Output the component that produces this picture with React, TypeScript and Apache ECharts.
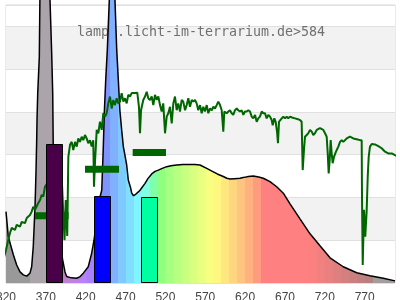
import React, { useEffect, useRef } from "react";
import * as echarts from "echarts";

// LED lamp spectrum (wavelength nm, relative intensity)
const ledWavelengths = [
  320.0, 322.9, 325.0, 329.2, 333.4, 337.6, 341.7, 346.0, 350.1, 352.2,
  354.2, 356.4, 357.6, 358.5, 359.0, 359.8, 361.8, 363.0, 366.0, 369.0,
  372.0, 374.5, 375.2, 377.3, 378.6, 379.3, 382.0, 385.0, 388.0, 391.1,
  394.0, 396.1, 402.0, 408.7, 413.0, 417.0, 423.2, 427.5, 430.4, 434.0,
  437.9, 440.1, 442.1, 443.3, 445.1, 447.1, 449.6, 451.5, 454.0, 456.7,
  458.9, 460.9, 462.8, 465.1, 467.2, 468.0, 471.4, 473.4, 476.4, 477.7,
  480.0, 483.0, 486.0, 488.1, 494.4, 498.0, 502.8, 507.0, 511.1, 516.0,
  521.6, 527.0, 534.1, 542.0, 550.8, 557.0, 563.3, 571.8, 580.1, 585.0,
  592.6, 597.0, 601.0, 607.0, 613.5, 619.0, 624.0, 630.2, 637.0, 642.8,
  651.2, 659.6, 667.9, 676.3, 688.8, 701.4, 713.9, 726.5, 743.1, 760.0,
  776.6, 793.3, 808.0,
];
const ledValues = [
  1.67, 1.08, 0.94, 0.66, 0.42, 0.26, 0.19, 0.16, 0.23, 0.38,
  0.85, 1.78, 2.57, 3.34, 3.89, 4.44, 5.29, 7.5, 11.0, 13.0,
  11.0, 7.5, 6.62, 5.38, 4.44, 3.11, 2.0, 1.3, 0.9, 0.54,
  0.26, 0.15, 0.12, 0.11, 0.15, 0.23, 0.38, 0.70, 1.00, 1.5,
  2.01, 2.17, 3.19, 3.97, 4.75, 5.45, 6.62, 8.5, 9.0, 6.62,
  5.45, 4.75, 4.05, 3.58, 3.19, 3.11, 2.76, 2.41, 2.22, 2.10,
  2.04, 2.08, 2.13, 2.17, 2.33, 2.44, 2.55, 2.61, 2.64, 2.68,
  2.72, 2.74, 2.76, 2.77, 2.77, 2.77, 2.76, 2.68, 2.60, 2.55,
  2.49, 2.45, 2.43, 2.44, 2.45, 2.47, 2.49, 2.50, 2.48, 2.45,
  2.37, 2.25, 2.10, 1.85, 1.50, 1.15, 0.87, 0.59, 0.38, 0.24,
  0.17, 0.11, 0.05,
];

// Sunlight reference spectrum
const sunWavelengths = [
  312.5, 316.6, 320.0, 322.9, 325.0, 327.2, 331.3, 333.4, 337.6, 339.7,
  343.8, 346.0, 350.1, 352.2, 354.2, 356.4, 360.5, 362.7, 364.8, 366.8,
  368.9, 372.7, 377.7, 382.7, 387.7, 390.3, 393.4, 395.0, 396.8, 398.2,
  400.3, 402.4, 404.4, 406.6, 408.7, 410.7, 412.8, 415.0, 417.0, 419.1,
  421.2, 423.2, 425.4, 427.5, 429.5, 430.4, 431.6, 433.8, 435.8, 437.9,
  440.1, 442.1, 444.2, 446.3, 448.3, 450.5, 452.6, 454.6, 456.7, 458.9,
  460.9, 463.0, 465.1, 467.2, 469.3, 471.4, 473.4, 475.6, 477.7, 481.8,
  484.7, 486.8, 488.1, 489.4, 492.2, 494.4, 496.5, 498.5, 500.6, 502.8,
  504.8, 506.9, 509.1, 511.1, 513.2, 515.3, 517.3, 519.5, 521.6, 523.6,
  525.7, 527.9, 529.9, 532.0, 534.1, 536.1, 538.3, 540.4, 542.4, 544.6,
  546.7, 548.7, 550.8, 553.0, 555.0, 557.1, 559.2, 561.2, 563.4, 565.5,
  567.5, 569.6, 571.8, 573.8, 575.9, 578.1, 580.1, 582.2, 584.3, 586.3,
  588.5, 590.6, 592.6, 593.9, 596.9, 598.9, 601.0, 603.1, 605.1, 607.3,
  609.4, 611.4, 613.5, 615.7, 617.7, 619.8, 622.0, 624.0, 626.1, 628.2,
  630.2, 632.4, 634.5, 636.5, 638.6, 640.8, 642.8, 644.9, 647.0, 649.1,
  651.2, 653.3, 654.6, 656.6, 658.3, 660.0, 661.2, 662.5, 664.1, 665.9,
  667.9, 670.0, 672.1, 674.1, 676.3, 678.8, 682.6, 686.3, 688.8, 690.9,
  692.2, 693.8, 695.1, 697.2, 699.2, 701.4, 703.5, 705.5, 707.6, 709.8,
  713.9, 718.0, 720.2, 722.3, 723.6, 724.8, 726.1, 727.3, 728.6, 729.8,
  731.5, 733.1, 734.9, 736.9, 739.0, 741.1, 743.1, 747.4, 751.5, 755.7,
  759.9, 764.1, 766.2, 766.6, 767.5, 769.1, 770.7, 772.5, 773.8, 775.0,
  776.6, 778.8, 782.9, 787.1, 791.3, 795.5, 799.6, 803.9, 808.0, 812.2,
  814.3,
];
const sunValues = [
  0.34, 0.54, 0.77, 1.01, 1.17, 1.29, 1.24, 1.36, 1.32, 1.43,
  1.40, 1.52, 1.59, 1.67, 1.78, 1.71, 1.87, 1.94, 2.06, 2.02,
  2.25, 2.36, 2.50, 2.31, 2.45, 2.29, 1.00, 1.94, 1.10, 2.95,
  3.23, 3.30, 3.11, 3.30, 3.19, 3.38, 3.30, 3.42, 3.34, 3.46,
  3.38, 3.27, 3.34, 3.19, 3.34, 2.25, 2.80, 3.58, 3.50, 3.77,
  3.58, 3.97, 3.89, 3.97, 4.20, 4.36, 4.08, 4.28, 4.16, 4.32,
  4.20, 4.24, 4.44, 4.24, 4.32, 4.20, 4.40, 4.36, 4.44, 4.44,
  4.45, 4.12, 3.50, 4.04, 4.28, 4.36, 4.47, 4.32, 4.28, 4.36,
  4.16, 4.40, 4.28, 4.36, 4.16, 4.01, 4.20, 3.50, 3.89, 3.97,
  4.12, 3.73, 4.20, 4.36, 4.04, 4.20, 4.01, 4.28, 4.24, 4.04,
  4.16, 4.32, 4.12, 4.28, 4.24, 4.28, 4.20, 4.04, 4.16, 3.97,
  4.12, 4.01, 4.16, 3.97, 4.08, 4.04, 4.12, 4.08, 4.16, 4.24,
  4.16, 4.04, 3.54, 4.01, 3.97, 4.01, 4.04, 3.97, 3.93, 4.04,
  4.08, 4.04, 4.01, 4.04, 3.93, 4.01, 4.01, 4.04, 4.01, 3.89,
  3.85, 3.93, 3.77, 3.85, 3.89, 4.01, 3.97, 3.97, 3.85, 3.93,
  3.89, 3.81, 3.69, 3.85, 3.77, 3.54, 3.27, 3.77, 3.81, 3.85,
  3.89, 3.85, 3.89, 3.85, 3.89, 3.87, 3.85, 3.83, 3.81, 3.77,
  2.64, 3.11, 3.42, 3.46, 3.50, 3.58, 3.54, 3.46, 3.50, 3.58,
  3.62, 3.58, 3.50, 3.42, 3.03, 2.56, 2.88, 3.34, 3.03, 2.80,
  2.95, 3.03, 3.11, 3.19, 3.30, 3.34, 3.30, 3.38, 3.42, 3.38,
  3.36, 3.34, 3.34, 2.02, 0.42, 1.71, 1.08, 1.71, 2.49, 2.95,
  3.19, 3.25, 3.24, 3.20, 3.15, 3.07, 3.03, 3.03, 2.99, 2.95,
  2.92,
];

// Colored bars (start nm, end nm, value)
const barStarts = [370.4, 430.8, 489.7];
const barEnds = [391.0, 451.3, 510.3];
const barValues = [3.24, 2.03, 2.0];

// Dark green horizontal markers
const bandStarts = [356.4, 419.1, 478.9];
const bandEnds = [398.5, 461.8, 520.7];
const bandValues = [1.57, 2.66, 3.05];

const titleText = "lampe.licht-im-terrarium.de>584";

const X_MIN = 320;
const X_MAX = 808;
const GRID_LEFT = 6;
const GRID_RIGHT = 5;
const BAR_COLORS = ["#4a0048", "#0000ff", "#00ffa0"];

function wavelengthPastel(w: number): string {
  if (w < 350) return "#999999";
  if (w < 380) return "#aba4ab";
  if (w > 780) return "#a39d9d";
  let r = 0, g = 0, b = 0;
  if (w < 440) { r = -(w - 440) / 60; b = 1; }
  else if (w < 490) { g = (w - 440) / 50; b = 1; }
  else if (w < 510) { g = 1; b = -(w - 510) / 20; }
  else if (w < 580) { r = (w - 510) / 70; g = 1; }
  else if (w < 645) { r = 1; g = -(w - 645) / 65; }
  else { r = 1; }
  let f = 1;
  if (w < 420) f = 0.3 + (0.7 * (w - 380)) / 40;
  else if (w > 700) f = 0.3 + (0.7 * (780 - w)) / 80;
  const c = (v: number) => {
    const s = v > 0 ? Math.pow(v * f, 0.8) * 255 : 0;
    return Math.round((255 + s) / 2);
  };
  return `rgb(${c(r)},${c(g)},${c(b)})`;
}

export default function App() {
  const ref = useRef<HTMLDivElement>(null);
  useEffect(() => {
    if (!ref.current) return;
    const chart = echarts.init(ref.current, null, { renderer: "svg" });
    const plotW = 400 - GRID_LEFT - GRID_RIGHT;

    const stops: { offset: number; color: string }[] = [];
    for (let w = X_MIN; w < X_MAX; w += 10) {
      const w2 = Math.min(w + 10, X_MAX);
      const col = wavelengthPastel(w + 5);
      stops.push({ offset: (w - X_MIN) / (X_MAX - X_MIN), color: col });
      stops.push({ offset: (w2 - X_MIN) / (X_MAX - X_MIN), color: col });
    }
    const fill = new echarts.graphic.LinearGradient(
      GRID_LEFT, 0, GRID_LEFT + plotW, 0, stops, true
    );

    const ledData = ledWavelengths.map((w, i) => [w, ledValues[i]]);
    const sunData = sunWavelengths.map((w, i) => [w, sunValues[i]]);
    const barData = barStarts.map((s, i) => [s, barEnds[i], barValues[i]]);
    const bandData = bandStarts.map((s, i) => [s, bandEnds[i], bandValues[i]]);

    chart.setOption({
      animation: false,
      grid: {
        left: GRID_LEFT,
        right: GRID_RIGHT,
        top: 5,
        bottom: 17,
        show: true,
        containLabel: false,
        outerBoundsMode: "none",
        borderColor: "#d6d6d6",
        borderWidth: 1,
        backgroundColor: "transparent",
      },
      xAxis: {
        type: "value",
        min: X_MIN,
        max: X_MAX,
        interval: 50,
        axisLine: { show: false },
        axisTick: { show: false },
        splitLine: { show: false },
        axisLabel: {
          showMaxLabel: false,
          hideOverlap: false,
          color: "#444",
          fontSize: 12,
          fontFamily: "Liberation Sans, Arial, sans-serif",
          margin: 8,
        },
      },
      yAxis: {
        type: "value",
        min: 0,
        max: 6.5,
        interval: 1,
        axisLabel: { show: false },
        axisLine: { show: false },
        axisTick: { show: false },
        splitLine: { show: true, lineStyle: { color: "#e0e0e0", width: 1 } },
        splitArea: { show: true, areaStyle: { color: ["#ffffff", "#f2f2f2"] } },
      },
      graphic: [
        {
          type: "text",
          z: 1,
          x: 201,
          y: 31.5,
          style: {
            text: titleText,
            fontSize: 13.3,
            fontFamily: "DejaVu Sans Mono",
            fill: "#707070",
            align: "center",
            verticalAlign: "middle",
          },
        },
      ],
      series: [
        {
          type: "line",
          z: 2,
          data: ledData,
          clip: false,
          showSymbol: false,
          symbol: "none",
          lineStyle: { color: "#000", width: 1.5 },
          areaStyle: { color: fill, opacity: 1 },
        },
        {
          type: "line",
          z: 3,
          data: sunData,
          clip: false,
          showSymbol: false,
          symbol: "none",
          lineStyle: { color: "#006600", width: 2 },
        },
        {
          type: "custom",
          z: 4,
          data: bandData,
          encode: { x: [0, 1], y: 2 },
          renderItem: (params: any, api: any) => {
            const p0 = api.coord([api.value(0), api.value(2)]);
            const p1 = api.coord([api.value(1), api.value(2)]);
            return {
              type: "rect",
              shape: { x: p0[0], y: p0[1] - 3.5, width: p1[0] - p0[0], height: 7 },
              style: { fill: "#006600" },
            };
          },
        },
        {
          type: "custom",
          z: 5,
          data: barData,
          encode: { x: [0, 1], y: 2 },
          renderItem: (params: any, api: any) => {
            const p0 = api.coord([api.value(0), api.value(2)]);
            const p1 = api.coord([api.value(1), 0]);
            const x0 = Math.round(p0[0]) + 0.5;
            const x1 = Math.round(p1[0]) - 0.5;
            const y0 = Math.round(p0[1]) + 0.5;
            const y1 = Math.round(p1[1]) - 0.5;
            return {
              type: "rect",
              shape: { x: x0, y: y0, width: x1 - x0, height: y1 - y0 },
              style: { fill: BAR_COLORS[params.dataIndex], stroke: "#000", lineWidth: 1 },
            };
          },
        },
      ],
    });
    return () => chart.dispose();
  }, []);
  return (
    <div
      ref={ref}
      style={{ position: "fixed", left: 0, top: 0, width: 400, height: 300 }}
    />
  );
}
